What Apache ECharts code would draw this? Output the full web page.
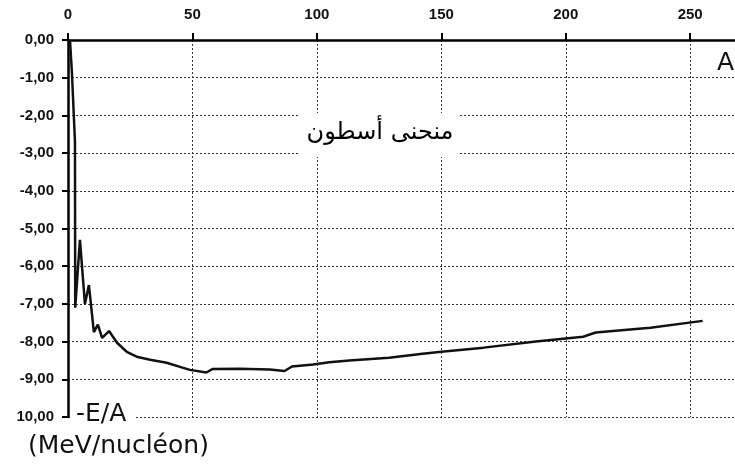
<!DOCTYPE html>
<html>
<head>
<meta charset="utf-8">
<script src="https://cdn.jsdelivr.net/npm/echarts@6/dist/echarts.min.js"></script>
<style>
html,body{margin:0;padding:0;background:#fff;}
#chart{width:735px;height:468px;}
</style>
</head>
<body>
<div id="chart"></div>
<script>
// Mass number A
var massNumbers = [0.8, 1.6, 2.8, 2.9, 4.8, 6.8, 8.4, 10.4, 12, 13.7, 16.5, 19.7, 23.6, 27.6, 33, 39.6, 46, 49, 55.6, 58, 69, 81, 87, 90, 98.5, 105, 113, 129, 142.5, 150, 167, 188, 207, 212, 234, 255];
// -E/A (MeV/nucleon)
var energies = [0, -0.9, -2.7, -7.1, -5.3, -7.0, -6.5, -7.75, -7.55, -7.9, -7.72, -8.03, -8.27, -8.4, -8.48, -8.56, -8.69, -8.75, -8.82, -8.73, -8.72, -8.74, -8.78, -8.66, -8.61, -8.55, -8.5, -8.43, -8.32, -8.27, -8.16, -8.0, -7.87, -7.76, -7.63, -7.45];
var xTickLabels = ["0", "50", "100", "150", "200", "250"];
var yTickLabels = ["0,00", "-1,00", "-2,00", "-3,00", "-4,00", "-5,00", "-6,00", "-7,00", "-8,00", "-9,00", "10,00"];
var titleText = "منحنى أسطون";
var xName = "A";
var yName1 = "-E/A";
var yName2 = "(MeV/nucléon)";

var seriesData = massNumbers.map(function (a, i) { return [a, energies[i]]; });

var chart = echarts.init(document.getElementById('chart'), null, {renderer: 'canvas'});
var gridStyle = {color: '#333', width: 1, type: [2, 2]};
chart.setOption({
  animation: false,
  backgroundColor: '#fff',
  grid: {left: 68, top: 40, right: 0, bottom: 51, containLabel: false},
  xAxis: {
    type: 'value', position: 'top', min: 0, max: 268, interval: 50,
    axisLine: {show: true, onZero: false, lineStyle: {color: '#000', width: 2.5}},
    axisTick: {show: true, length: 7, lineStyle: {color: '#000', width: 2}},
    axisLabel: {
      margin: 18, color: '#111', fontFamily: 'Liberation Sans', fontSize: 15, fontWeight: 'bold',
      showMaxLabel: false,
      formatter: function (v) { var i = Math.round(v / 50); return (Math.abs(v - i * 50) < 1e-6 && xTickLabels[i] !== undefined) ? xTickLabels[i] : ''; }
    },
    splitLine: {show: true, lineStyle: gridStyle}
  },
  yAxis: {
    type: 'value', min: -10, max: 0, interval: 1,
    axisLine: {show: true, onZero: false, lineStyle: {color: '#000', width: 2.5}},
    axisTick: {show: true, length: 6, lineStyle: {color: '#000', width: 2}},
    axisLabel: {
      margin: 14, color: '#111', fontFamily: 'Liberation Sans', fontSize: 15, fontWeight: 'bold',
      formatter: function (v) { return yTickLabels[Math.round(-v)]; }
    },
    splitLine: {show: true, lineStyle: gridStyle}
  },
  series: [{
    type: 'line', data: seriesData, showSymbol: false, smooth: false,
    lineStyle: {color: '#111', width: 2.5}, z: 5
  }],
  graphic: [
    {type: 'rect', z: 50, shape: {x: 300, y: 113, width: 158, height: 44}, style: {fill: '#fff'}},
    {type: 'text', z: 51, x: 380, y: 133, style: {text: titleText, fontFamily: 'DejaVu Sans', fontSize: 24, fill: '#000', align: 'center', verticalAlign: 'middle'}},
    {type: 'text', z: 51, x: 717, y: 63, style: {text: xName, fontFamily: 'DejaVu Sans', fontSize: 25, fill: '#111', align: 'left', verticalAlign: 'middle'}},
    {type: 'rect', z: 50, shape: {x: 71, y: 402, width: 64, height: 24}, style: {fill: '#fff'}},
    {type: 'text', z: 51, x: 76, y: 414, style: {text: yName1, fontFamily: 'DejaVu Sans', fontSize: 25, fill: '#111', align: 'left', verticalAlign: 'middle'}},
    {type: 'text', z: 51, x: 28, y: 446, style: {text: yName2, fontFamily: 'DejaVu Sans', fontSize: 25, fill: '#111', align: 'left', verticalAlign: 'middle'}}
  ]
});
</script>
</body>
</html>
